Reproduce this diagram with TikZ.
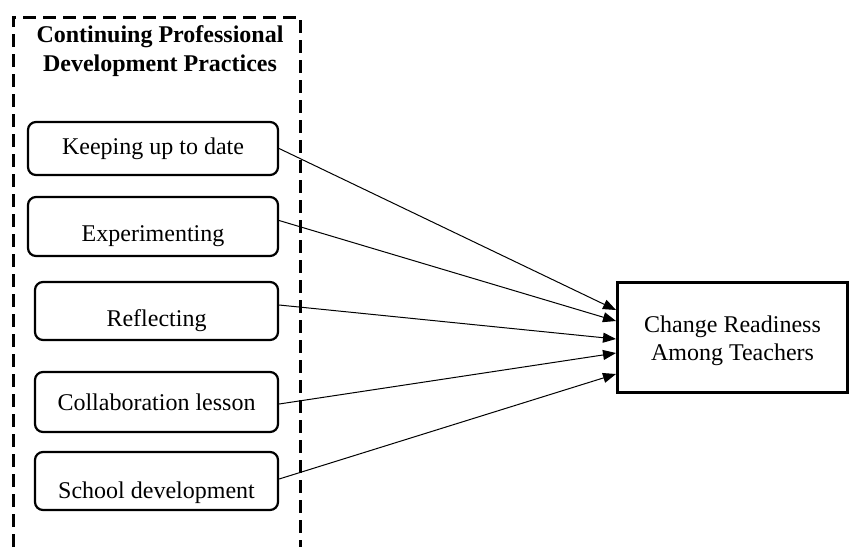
\documentclass[tikz,border=0pt]{standalone}
\usepackage{fontspec}
\setmainfont{Liberation Serif}
\usetikzlibrary{arrows.meta,calc}

\tikzset{
	practice/.style={draw, line width=1.1pt, rounded corners=4pt, minimum height=28pt, inner sep=2pt},
	outcome/.style={draw, line width=1.5pt, minimum width=115pt, minimum height=55pt, align=center},
	link/.style={line width=0.5pt, -{Triangle[length=6.5pt,width=5pt]}}
}

\begin{document}
\begin{tikzpicture}[x=0.5pt, y=-0.5pt, font=\fontsize{12}{14}\selectfont]
	\useasboundingbox (0,0) rectangle (849,547);
	
	%Group frame
	\draw[line width=1.5pt, dash pattern=on 6.5pt off 3.5pt] (13,547) -- (13,17) -- (300,17) -- (300,547);
	\node[align=center, font=\fontsize{12}{14.5}\selectfont\bfseries] (title) at (160,51) {Continuing Professional\\Development Practices};
	
	%Practices
	\node[practice, minimum width=125pt, minimum height=26.5pt] (keep) at (153,148.5) {Keeping up to date};
	\node[practice, minimum width=125pt, minimum height=29.5pt, text height=18pt] (exp) at (153,226.5) {Experimenting};
	\node[practice, minimum width=121.5pt, minimum height=29pt, text height=18pt] (refl) at (156.5,311) {Reflecting};
	\node[practice, minimum width=121.5pt, minimum height=30pt] (coll) at (156.5,402) {Collaboration lesson};
	\node[practice, minimum width=121.5pt, minimum height=29pt, text height=20pt] (school) at (156.5,481) {School development};
	
	%Outcome
	\node[outcome, text height=26pt] (ready) at (732.5,337) {Change Readiness\\Among Teachers};
	
	%Links
	\draw[link] (keep.east) -- ($(ready.west)+(0,-27)$);
	\draw[link] ($(exp.east)+(0,-6)$) -- ($(ready.west)+(0,-16)$);
	\draw[link] ($(refl.east)+(0,-6)$) -- ($(ready.west)+(0,2)$);
	\draw[link] ($(coll.east)+(0,2)$) -- ($(ready.west)+(0,16)$);
	\draw[link] ($(school.east)+(0,-2)$) -- ($(ready.west)+(0,37)$);
\end{tikzpicture}
\end{document}
